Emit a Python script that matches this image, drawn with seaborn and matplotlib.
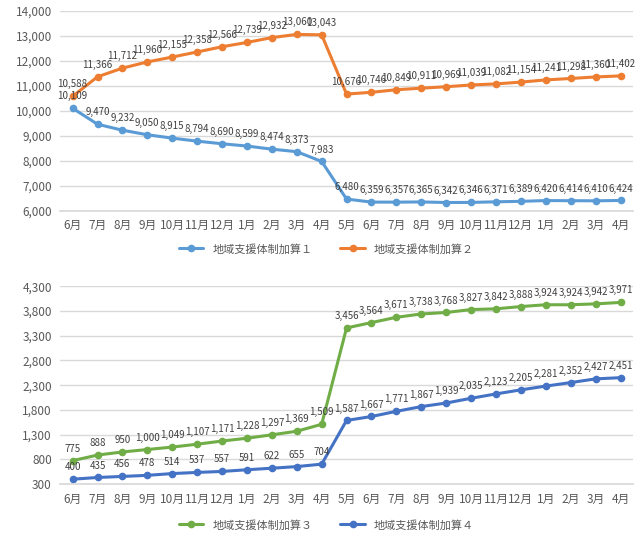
import matplotlib
matplotlib.use("Agg")
import matplotlib.pyplot as plt
import seaborn as sns
import pandas as pd
from matplotlib.ticker import FuncFormatter

months = ["6月", "7月", "8月", "9月", "10月", "11月", "12月", "1月", "2月", "3月", "4月",
          "5月", "6月", "7月", "8月", "9月", "10月", "11月", "12月", "1月", "2月", "3月", "4月"]

kasan1 = [10109, 9470, 9232, 9050, 8915, 8794, 8690, 8599, 8474, 8373, 7983,
          6480, 6359, 6357, 6365, 6342, 6346, 6371, 6389, 6420, 6414, 6410, 6424]
kasan2 = [10588, 11366, 11712, 11960, 12155, 12358, 12566, 12739, 12932, 13060, 13043,
          10676, 10746, 10849, 10911, 10969, 11039, 11082, 11154, 11241, 11298, 11360, 11402]
kasan3 = [775, 888, 950, 1000, 1049, 1107, 1171, 1228, 1297, 1369, 1509,
          3456, 3564, 3671, 3738, 3768, 3827, 3842, 3888, 3924, 3924, 3942, 3971]
kasan4 = [400, 435, 456, 478, 514, 537, 557, 591, 622, 655, 704,
          1587, 1667, 1771, 1867, 1939, 2035, 2123, 2205, 2281, 2352, 2427, 2451]

names = ["地域支援体制加算１", "地域支援体制加算２", "地域支援体制加算３", "地域支援体制加算４"]
colors = ["#5B9BD5", "#ED7D31", "#70AD47", "#4472C4"]

sns.set_theme(style="white")
plt.rcParams['font.family'] = ['Noto Sans CJK JP', 'DejaVu Sans']

def make_df(series_list, series_names):
    rows = []
    for vals, nm in zip(series_list, series_names):
        for i, v in enumerate(vals):
            rows.append({"idx": i, "value": v, "series": nm})
    return pd.DataFrame(rows)

fig = plt.figure(figsize=(6.4, 5.44), dpi=100)
ax1 = fig.add_axes([0.094, 0.612, 0.895, 0.368])
ax2 = fig.add_axes([0.094, 0.110, 0.895, 0.364])

text_color = "#595959"
label_color = "#404040"

def draw(ax, series_list, series_names, cols, ylim, step, legend_y):
    df = make_df(series_list, series_names)
    sns.lineplot(data=df, x="idx", y="value", hue="series", palette=cols,
                 hue_order=series_names, marker="o", markersize=5.5,
                 markeredgewidth=0, linewidth=2.2, ax=ax, legend=True)
    for vals, c in zip(series_list, cols):
        for i, v in enumerate(vals):
            ax.annotate(f"{v:,}", (i, v), xytext=(0, 5), textcoords="offset points",
                        ha="center", va="bottom", fontsize=7, color=label_color)
    ax.set_xlim(-0.5, len(months) - 0.5)
    ax.set_ylim(*ylim)
    ax.set_yticks([ylim[0] + k * step for k in range(int((ylim[1] - ylim[0]) / step) + 1)])
    ax.yaxis.set_major_formatter(FuncFormatter(lambda v, p: f"{int(v):,}"))
    ax.set_xticks(range(len(months)))
    ax.set_xticklabels(months)
    ax.tick_params(axis="both", length=0, labelsize=8.5, colors=text_color, pad=6)
    ax.set_xlabel("")
    ax.set_ylabel("")
    ax.grid(axis="y", color="#D9D9D9", linewidth=1)
    ax.set_axisbelow(True)
    for s in ["top", "right", "left"]:
        ax.spines[s].set_visible(False)
    ax.spines["bottom"].set_color("#D9D9D9")
    handles, labels = ax.get_legend_handles_labels()
    ax.get_legend().remove()
    fig.legend(handles, labels, loc="center", bbox_to_anchor=(0.51, legend_y), ncol=2,
               frameon=False, fontsize=8, handlelength=2.2, columnspacing=2.5,
               labelcolor=text_color)

draw(ax1, [kasan1, kasan2], names[:2], colors[:2], (6000, 14000), 1000, 1 - 249 / 544)
draw(ax2, [kasan3, kasan4], names[2:], colors[2:], (300, 4300), 500, 1 - 525 / 544)

fig.savefig("out.png", dpi=100)
